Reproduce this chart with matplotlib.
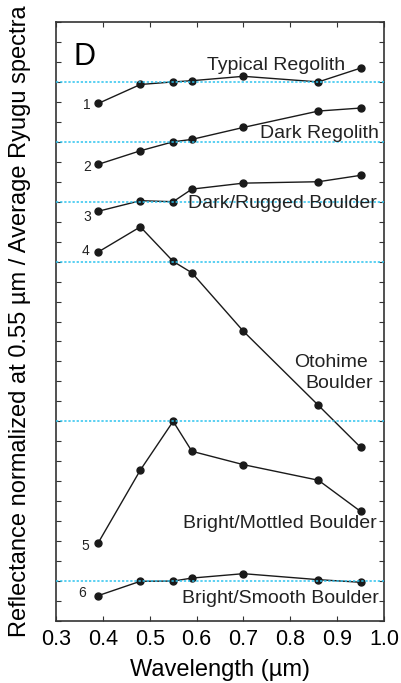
import matplotlib
matplotlib.use('Agg')
import matplotlib.pyplot as plt

plt.rcParams['font.family'] = ['Liberation Sans', 'DejaVu Sans']

# 파장 (µm)
wavelength = [0.39, 0.48, 0.55, 0.59, 0.70, 0.86, 0.95]

# 각 스펙트럼 (눈금 단위로 오프셋된 값)
typical_regolith = [25.92, 26.87, 27.0, 27.06, 27.28, 27.0, 27.69]
dark_regolith = [22.87, 23.55, 24.0, 24.12, 24.72, 25.54, 25.69]
dark_rugged = [20.52, 21.05, 21.0, 21.63, 21.93, 22.0, 22.32]
otohime = [18.48, 19.74, 18.01, 17.44, 14.51, 10.80, 8.70]
bright_mottled = [3.91, 7.56, 10.0, 8.50, 7.83, 7.05, 5.49]
bright_smooth = [1.27, 1.99, 2.0, 2.15, 2.37, 2.07, 1.94]

series = [typical_regolith, dark_regolith, dark_rugged, otohime, bright_mottled, bright_smooth]

# 0.55 µm 기준선
ref_levels = [27, 24, 21, 18, 10, 2]

# 번호 라벨 위치
num_labels = ['1', '2', '3', '4', '5', '6']
num_x = [0.374, 0.374, 0.374, 0.371, 0.371, 0.365]
num_y = [25.84, 22.75, 20.25, 18.54, 3.76, 1.40]

# 이름 라벨 (오른쪽 정렬, baseline)
names = ['Typical Regolith', 'Dark Regolith', 'Dark/Rugged Boulder', 'Otohime', 'Boulder',
         'Bright/Mottled Boulder', 'Bright/Smooth Boulder']
name_x = [0.917, 0.989, 0.984, 0.966, 0.976, 0.984, 0.989]
name_y = [27.59, 24.17, 20.67, 12.70, 11.68, 4.64, 0.89]

fig = plt.figure(figsize=(4.02, 6.83), dpi=100)
ax = fig.add_axes([56 / 402, 62 / 683, 328 / 402, 599 / 683])

for lv in ref_levels:
    ax.axhline(lv, color='#2ec4ef', linestyle=(0, (1.5, 1.2)), linewidth=1.1, zorder=3)

for s in series:
    ax.plot(wavelength, s, color='#1a1a1a', linewidth=1.0, marker='o', markersize=5, zorder=2)

for t, x, y in zip(num_labels, num_x, num_y):
    ax.text(x, y, t, ha='right', va='center', fontsize=10, color='#222222')

for t, x, y in zip(names, name_x, name_y):
    ax.text(x, y, t, ha='right', va='baseline', fontsize=14, color='#222222')

ax.text(0.052, 0.928, 'D', transform=ax.transAxes, fontsize=22, ha='left', va='baseline')

ax.set_xlim(0.3, 1.0)
ax.set_ylim(0, 30)
ax.set_xticks([0.3, 0.4, 0.5, 0.6, 0.7, 0.8, 0.9, 1.0])
ax.set_xticklabels(['0.3', '0.4', '0.5', '0.6', '0.7', '0.8', '0.9', '1.0'])
ax.set_yticks(range(0, 31))
ax.tick_params(axis='both', direction='in', length=3.6, width=0.8, color='#333333',
               top=True, right=True, labelleft=False, labelsize=15.5, pad=6)
for sp in ax.spines.values():
    sp.set_linewidth(1.2)
    sp.set_color('#333333')

ax.set_xlabel('Wavelength (µm)', fontsize=17, labelpad=6)
ax.set_ylabel('Reflectance normalized at 0.55 µm / Average Ryugu spectra', fontsize=17, labelpad=18)

plt.savefig('out.png', dpi=100)
